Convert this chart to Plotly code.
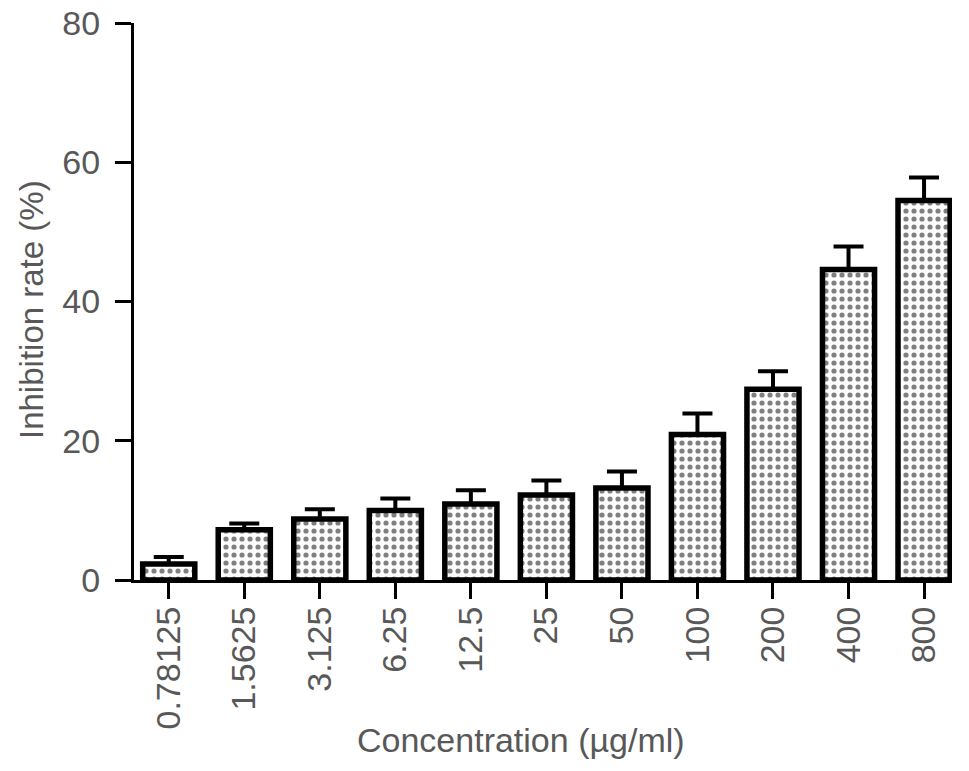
import plotly.graph_objects as go

categories = ["0.78125", "1.5625", "3.125", "6.25", "12.5", "25", "50", "100", "200", "400", "800"]
inhibition = [2.3, 7.2, 8.75, 10.0, 10.9, 12.2, 13.2, 20.9, 27.4, 44.6, 54.5]
error_up = [1.0, 0.9, 1.4, 1.7, 2.0, 2.1, 2.4, 3.0, 2.6, 3.3, 3.3]
y_ticks = [0, 20, 40, 60, 80]

xpos = list(range(len(categories)))
FONT = "Liberation Sans, Arial, Helvetica, sans-serif"
GREY = "#585858"

fig = go.Figure()
fig.add_trace(go.Bar(
    x=xpos, y=inhibition, width=0.69,
    marker=dict(
        color="white",
        line=dict(color="black", width=5.5),
        pattern=dict(shape=".", fgcolor="black", bgcolor="white", size=8, solidity=0.33),
    ),
    error_y=dict(type="data", array=error_up, arrayminus=[0] * len(error_up),
                 symmetric=False, color="black", thickness=4, width=15),
    showlegend=False,
))

fig.update_layout(
    width=969, height=771,
    margin=dict(l=134, r=17, t=23, b=191, autoexpand=False),
    plot_bgcolor="white", paper_bgcolor="white",
    font=dict(family=FONT, size=34, color=GREY),
)
fig.update_xaxes(
    range=[-0.46, 10.37], automargin=False,
    tickmode="array", tickvals=xpos, ticktext=categories,
    tickangle=-90, ticks="outside", ticklen=16, tickwidth=3, tickcolor="black",
    showline=True, linecolor="black", linewidth=3,
    showgrid=False, zeroline=False,
    tickfont=dict(family=FONT, size=34, color=GREY),
    ticklabelstandoff=-6,
)
fig.update_yaxes(
    range=[0, 80], automargin=False,
    tickmode="array", tickvals=y_ticks,
    ticks="outside", ticklen=16, tickwidth=3, tickcolor="black",
    showline=True, linecolor="black", linewidth=3,
    showgrid=False, zeroline=False,
    tickfont=dict(family=FONT, size=34, color=GREY),
    ticklabelstandoff=8,
)
fig.add_annotation(text="Concentration (µg/ml)", xref="paper", yref="paper",
                   x=(521 - 134) / (952 - 134), y=-(740 - 580) / 557,
                   showarrow=False, font=dict(family=FONT, size=34, color=GREY),
                   xanchor="center", yanchor="middle")
fig.add_annotation(text="Inhibition rate (%)", xref="paper", yref="paper",
                   x=-(134 - 31) / (952 - 134), y=(580 - 310) / 557,
                   showarrow=False, textangle=-90, font=dict(family=FONT, size=33, color=GREY),
                   xanchor="center", yanchor="middle")

fig.write_html("out.html", config={"displayModeBar": False},
               post_script="document.body.style.margin='0';")
